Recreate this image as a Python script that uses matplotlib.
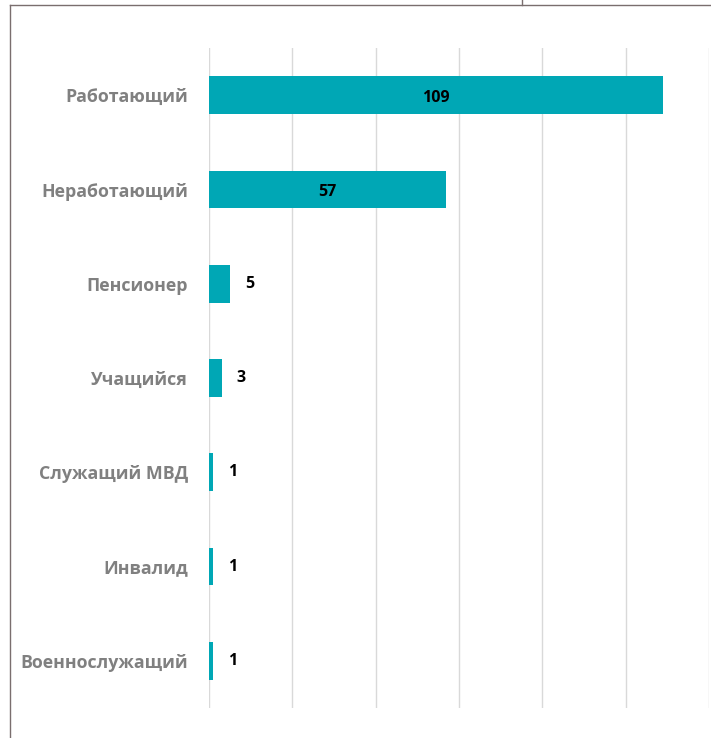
import matplotlib

matplotlib.use("Agg")
import matplotlib.pyplot as plt
from matplotlib.lines import Line2D

plt.rcParams["font.family"] = ["Open Sans", "DejaVu Sans"]

categories = ["Работающий", "Неработающий", "Пенсионер", "Учащийся",
              "Служащий МВД", "Инвалид", "Военнослужащий"]
counts = [109, 57, 5, 3, 1, 1, 1]
x_ticks = [0, 20, 40, 60, 80, 100, 120]

BAR = "#00a7b5"
LABEL = "#808080"
GRID = "#d9d9d9"
FRAME = "#7a6e6e"

fig = plt.figure(figsize=(7.11, 7.38), dpi=100, facecolor="white")
ax = fig.add_axes([0.294, 0.0407, 0.703, 0.894])

y = list(range(len(categories)))
ax.barh(y, counts, height=0.4, color=BAR, zorder=3)
ax.set_ylim(len(categories) - 0.5, -0.5)
ax.set_xlim(0, 120)
ax.set_xticks(x_ticks)
ax.set_xticklabels([])
ax.tick_params(length=0)
ax.grid(axis="x", color=GRID, linewidth=1, zorder=0)
for side in ax.spines:
    ax.spines[side].set_visible(False)

ax.set_yticks(y)
ax.set_yticklabels(categories, fontsize=12.8, fontweight="bold", color=LABEL)
ax.tick_params(axis="y", pad=15)

# big bars get the value inside, small ones just past the end
for yi, v in zip(y, counts):
    if v > 20:
        ax.text(v / 2, yi + 0.03, str(v), ha="center", va="center",
                fontsize=11.5, fontweight="bold", color="black", zorder=4)
    else:
        ax.annotate(str(v), xy=(v, yi), xytext=(11, 0), textcoords="offset points",
                    ha="left", va="center", fontsize=11.5, fontweight="bold",
                    color="black")

# remnants of the spreadsheet frame around the chart
fig.add_artist(Line2D([10 / 711, 10 / 711], [0, 1 - 5 / 738], color=FRAME, lw=1))
fig.add_artist(Line2D([10 / 711, 1], [1 - 5 / 738, 1 - 5 / 738], color=FRAME, lw=1))
fig.add_artist(Line2D([522 / 711, 522 / 711], [1 - 5 / 738, 1], color=FRAME, lw=1))

fig.savefig("out.png", dpi=100, facecolor="white")
